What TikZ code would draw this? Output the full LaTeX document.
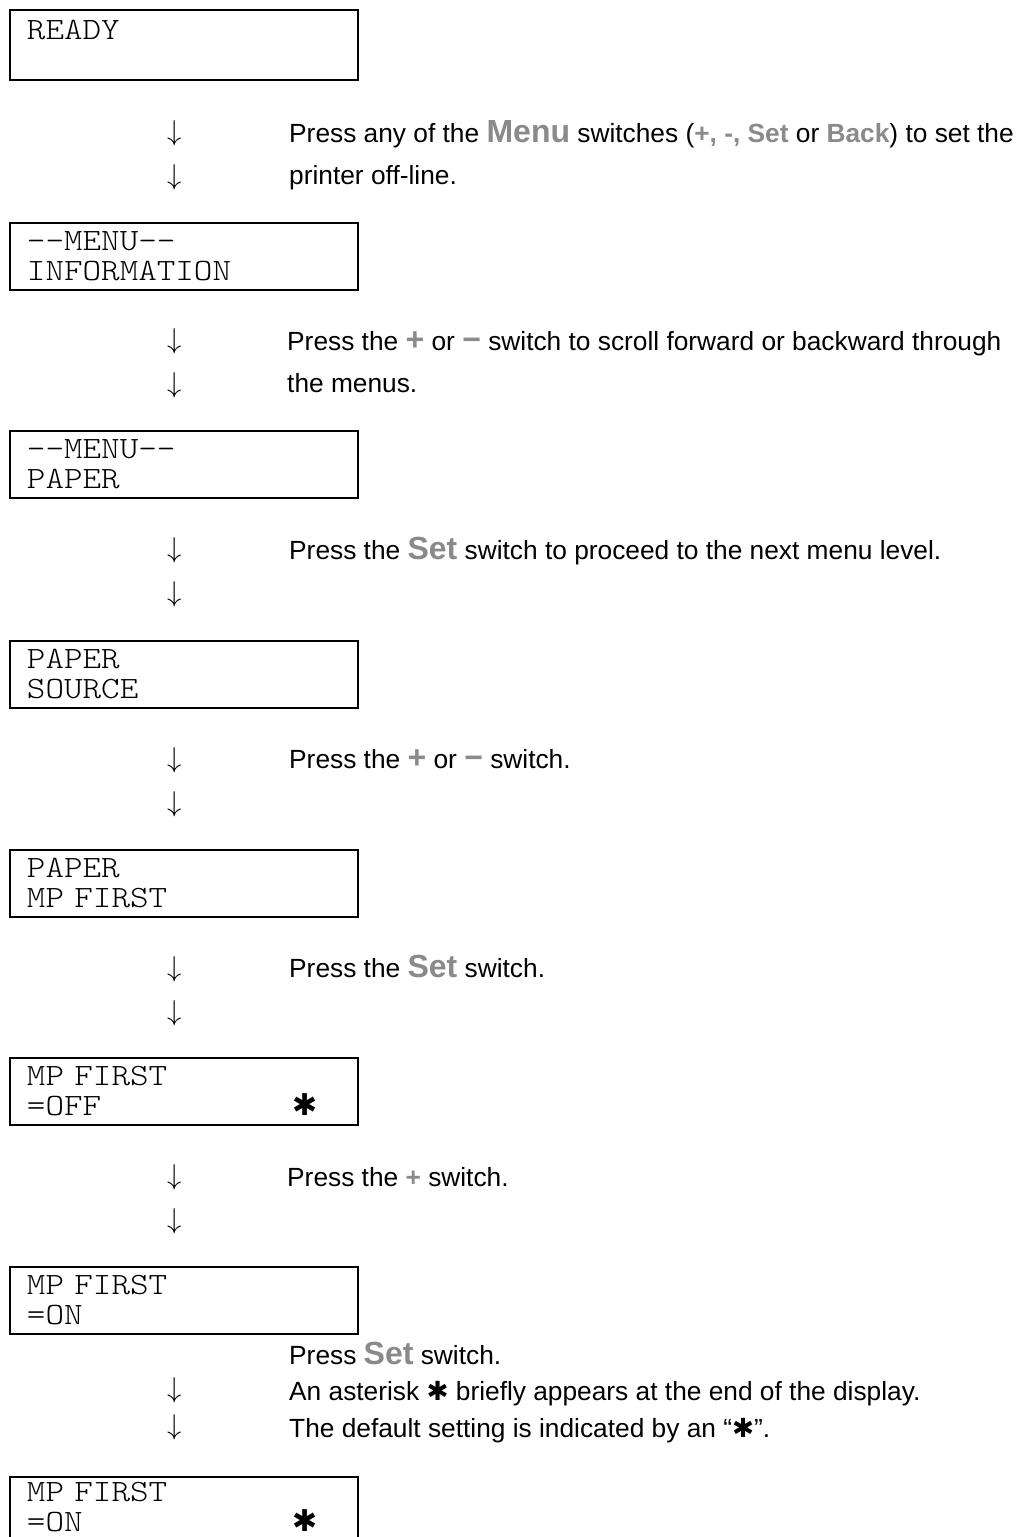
\documentclass[tikz,border=0pt]{standalone}
\usepackage{fontspec}
\setmainfont{Liberation Sans}
\newfontfamily\symfont{DejaVu Sans}
\newfontfamily\lcdfont{lmmonolt10-regular}[Extension=.otf, FakeStretch=1.14]
\usetikzlibrary{positioning}
\definecolor{keygray}{RGB}{138,138,138}
\newcommand{\keyname}[1]{{\bfseries\color{keygray}#1}}
\newcommand{\bigkey}[1]{{\fontsize{32}{41}\selectfont\bfseries\color{keygray}#1}}
\newcommand{\heavystar}{{\symfont\bfseries ✱}}
\newcommand{\starline}[1]{\makebox[266pt][l]{#1}{\symfont\fontsize{30}{30}\selectfont ✱}}

\begin{document}
\begin{tikzpicture}[x=1pt, y=-1pt,
      lcd/.style={draw, line width=2pt, minimum width=348pt, minimum height=67pt,
                  text width=314pt, inner xsep=17pt, inner ysep=0pt, align=left,
                  font=\lcdfont\fontsize{31}{30}\selectfont},
      dn/.style={inner sep=0pt, font=\fontsize{24.88}{25}\selectfont},
      note/.style={anchor=base west, align=left, inner sep=0pt,
                   font=\fontsize{26.3}{41.5}\selectfont},
    ]
    \useasboundingbox (0,0) rectangle (1019,1537);

    % the panel displays, top to bottom
    \node[lcd, minimum height=70pt] (rdy) at (184,45)   {READY\\\mbox{}};
    \node[lcd] (inf) at (184,256.5) {--MENU--\\INFORMATION};
    \node[lcd] (pap) at (184,464.5) {--MENU--\\PAPER};
    \node[lcd] (src) at (184,674)   {PAPER\\SOURCE};
    \node[lcd] (mpf) at (184,883)   {PAPER\\MP FIRST};
    \node[lcd] (off) at (184,1091)  {MP FIRST\\\starline{=OFF}};
    \node[lcd] (on)  at (184,1300)  {MP FIRST\\=ON};
    % last one runs off the bottom edge
    \node[lcd] (onx) at (184,1510.5) {MP FIRST\\\starline{=ON}\\[-22pt]\mbox{}};

    % down arrows between the displays
    \foreach \y [count=\i] in {133,177,341,385,550,594,760,804,969,1013,1177,1221,1390,1427}
      \node[dn] (dn\i) at (175,\y) {\scalebox{1.15}{$\downarrow$}};

    % what to press at each step (base = last line)
    \node[note] (tx1) at (289,184)
      {Press any of the \bigkey{Menu} switches (\keyname{+, -, Set} or \keyname{Back}) to set the\\printer off-line.};
    \node[note] (tx2) at (287,392)
      {Press the \bigkey{+} or \bigkey{−} switch to scroll forward or backward through\\the menus.};
    \node[note] (tx3) at (289,559)
      {Press the \bigkey{Set} switch to proceed to the next menu level.};
    \node[note] (tx4) at (289,768)
      {Press the \bigkey{+} or \bigkey{−} switch.};
    \node[note] (tx5) at (289,977)
      {Press the \bigkey{Set} switch.};
    \node[note] (tx6) at (287,1186)
      {Press the \keyname{+} switch.};
    \node[note, font=\fontsize{26.3}{36.5}\selectfont] (tx7) at (289,1437)
      {Press \bigkey{Set} switch.\\An asterisk \heavystar{} briefly appears at the end of the display.\\The default setting is indicated by an “\heavystar”.};
  \end{tikzpicture}
\end{document}
